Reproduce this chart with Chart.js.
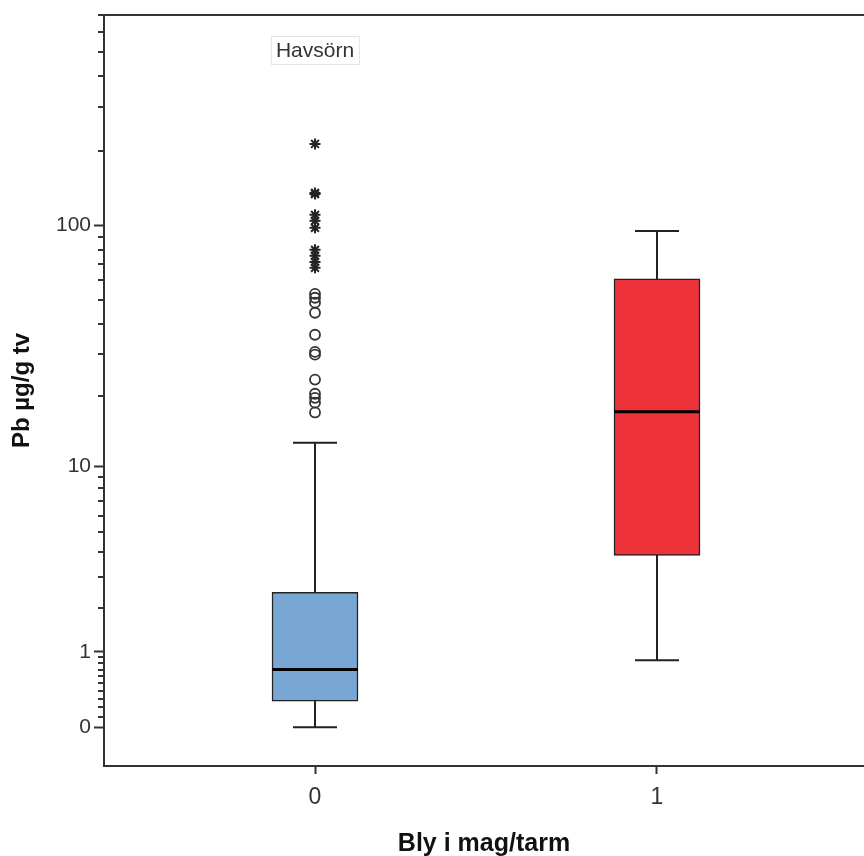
<!DOCTYPE html>
<html>
<head>
<meta charset="utf-8">
<script src="https://cdn.jsdelivr.net/npm/chart.js@4/dist/chart.umd.min.js"></script>
<style>
  html, body { margin: 0; padding: 0; background: #ffffff; }
  #wrap { width: 864px; height: 856px; position: relative; }
</style>
</head>
<body>
<div id="wrap"><canvas id="chart"></canvas></div>
<script>
// Lead concentration (Pb, µg/g dry weight) in white-tailed eagles,
// grouped by whether lead was found in the stomach/intestine.
const groups = ['0', '1'];
const whiskerLow = [0, 0.85];
const quartile1 = [0.27, 3.86];
const median = [0.70, 17.2];
const quartile3 = [2.46, 60.9];
const whiskerHigh = [12.7, 95.2];

// Outliers of group "0": circles (mild) and stars (extreme)
const mildOutliers0 = [52.9, 51.0, 48.7, 44.3, 36.0, 30.6, 29.8, 23.5, 20.5, 19.7, 18.8, 17.1];
const extremeOutliers0 = [213, 135.4, 134, 110.5, 104.5, 97.9, 79.8, 75.5, 71.3, 67.5];

// Y axis ticks (log10(v + 1) axis)
const yMajorTicks = [0, 1, 10, 100];
const yMajorLabels = ['0', '1', '10', '100'];
const yMinorTicks = [0.1, 0.2, 0.3, 0.4, 0.5, 0.6, 0.7, 0.8, 0.9,
                     2, 3, 4, 5, 6, 7, 8, 9,
                     20, 30, 40, 50, 60, 70, 80, 90,
                     200, 300, 400, 500, 600, 700];

const panelLabel = 'Havsörn';
const xTitle = 'Bly i mag/tarm';
const yTitle = 'Pb µg/g tv';

const boxColors = ['#79a7d4', '#ee323a'];

// Scale mapping values through log10(v + 1), so that zero can be shown.
const lg1p = v => Math.log10(v + 1);
class Log1pScale extends Chart.Scale {
  determineDataLimits() {
    const mm = this.getMinMax(false);
    this.min = Number.isFinite(this.options.min) ? this.options.min : mm.min;
    this.max = Number.isFinite(this.options.max) ? this.options.max : mm.max;
  }
  buildTicks() { return []; }
  getLabelForValue(v) { return String(v); }
  configure() {
    super.configure();
    this._lo = lg1p(this.min);
    this._span = lg1p(this.max) - this._lo;
  }
  getPixelForValue(v) { return this.getPixelForDecimal((lg1p(v) - this._lo) / this._span); }
  getValueForPixel(p) { return Math.pow(10, this._lo + this.getDecimalForPixel(p) * this._span) - 1; }
  getPixelForTick(i) { const t = this.ticks[i]; return t ? this.getPixelForValue(t.value) : null; }
}
Log1pScale.id = 'log1p';
Log1pScale.defaults = {};
Chart.register(Log1pScale);

const axisColor = '#333333';
const noPadding = () => ({ left: 0, top: 0, right: 0, bottom: 0 });

// Whiskers, caps, medians, minor ticks, frame and the panel label
const boxPlot = {
  id: 'boxPlot',
  beforeDatasetsDraw(chart) {
    const { ctx, scales: { x, y } } = chart;
    const capHalf = 22;
    ctx.save();
    ctx.strokeStyle = '#222222';
    ctx.lineWidth = 2;
    groups.forEach((g, i) => {
      const cx = x.getPixelForValue(i);
      const lo = y.getPixelForValue(whiskerLow[i]);
      const hi = y.getPixelForValue(whiskerHigh[i]);
      ctx.beginPath();
      ctx.moveTo(cx, lo); ctx.lineTo(cx, hi);
      ctx.moveTo(cx - capHalf, lo); ctx.lineTo(cx + capHalf, lo);
      ctx.moveTo(cx - capHalf, hi); ctx.lineTo(cx + capHalf, hi);
      ctx.stroke();
    });
    ctx.restore();
  },
  afterDatasetDraw(chart, args) {
    if (args.index !== 0) return;
    const { ctx, scales: { y } } = chart;
    const bars = chart.getDatasetMeta(0).data;
    ctx.save();
    ctx.strokeStyle = '#000000';
    ctx.lineWidth = 3;
    bars.forEach((el, i) => {
      const py = y.getPixelForValue(median[i]);
      ctx.beginPath();
      ctx.moveTo(el.x - el.width / 2, py);
      ctx.lineTo(el.x + el.width / 2, py);
      ctx.stroke();
    });
    ctx.restore();
  },
  afterDraw(chart) {
    const { ctx, chartArea: area, scales: { x, y } } = chart;
    ctx.save();
    // minor ticks on the value axis
    ctx.strokeStyle = axisColor;
    ctx.lineWidth = 2;
    ctx.beginPath();
    yMinorTicks.forEach(v => {
      const py = Math.round(y.getPixelForValue(v));
      ctx.moveTo(area.left - 6, py);
      ctx.lineTo(area.left, py);
    });
    ctx.stroke();
    // top frame line
    ctx.beginPath();
    ctx.moveTo(area.left - 6, area.top);
    ctx.lineTo(chart.width, area.top);
    ctx.stroke();
    // panel label
    ctx.font = '21px "Liberation Sans", Arial, sans-serif';
    const tw = ctx.measureText(panelLabel).width;
    const cx = x.getPixelForValue(0);
    const cy = 50;
    ctx.fillStyle = '#ffffff';
    ctx.strokeStyle = '#e4e4e4';
    ctx.lineWidth = 1;
    ctx.fillRect(cx - tw / 2 - 5, cy - 14, tw + 10, 28);
    ctx.strokeRect(cx - tw / 2 - 5 + 0.5, cy - 14 + 0.5, tw + 10, 28);
    ctx.fillStyle = '#333333';
    ctx.textAlign = 'center';
    ctx.textBaseline = 'middle';
    ctx.fillText(panelLabel, cx, cy + 1);
    ctx.restore();
  }
};

const xMin = -0.617, xMax = 1.6053;

new Chart(document.getElementById('chart'), {
  type: 'bar',
  data: {
    datasets: [
      {
        type: 'bar',
        data: groups.map((g, i) => ({ x: i, y: [quartile1[i], quartile3[i]] })),
        backgroundColor: boxColors,
        borderColor: '#222222',
        borderWidth: 1.5,
        borderSkipped: false,
        barThickness: 86,
        order: 2
      },
      {
        type: 'scatter',
        data: mildOutliers0.map(v => ({ x: 0, y: v })),
        pointStyle: 'circle',
        pointRadius: 5,
        borderWidth: 1.8,
        borderColor: '#333333',
        backgroundColor: 'rgba(255,255,255,0)',
        order: 1
      },
      {
        type: 'scatter',
        data: extremeOutliers0.map(v => ({ x: 0, y: v })),
        pointStyle: 'star',
        pointRadius: 5.5,
        borderWidth: 2,
        borderColor: '#222222',
        backgroundColor: '#222222',
        order: 1
      }
    ]
  },
  options: {
    responsive: true,
    maintainAspectRatio: false,
    animation: false,
    events: [],
    layout: { autoPadding: false, padding: { top: 15, right: 0, left: 0, bottom: 0 } },
    plugins: { legend: { display: false }, tooltip: { enabled: false } },
    scales: {
      x: {
        type: 'linear',
        position: 'bottom',
        offset: false,
        min: xMin,
        max: xMax,
        afterBuildTicks: s => { s.ticks = groups.map((g, i) => ({ value: i })); },
        afterFit: s => { s.height = 90; s.paddingLeft = 0; s.paddingRight = 0; s.getPadding = noPadding; },
        ticks: {
          callback: v => groups[v],
          color: '#333333',
          font: { family: '"Liberation Sans", Arial, sans-serif', size: 23 },
          padding: 10,
          maxRotation: 0,
          autoSkip: false
        },
        grid: {
          offset: false,
          drawOnChartArea: false,
          drawTicks: true,
          tickLength: 8,
          tickWidth: 2,
          tickColor: axisColor
        },
        border: { display: true, color: axisColor, width: 2 },
        title: {
          display: true,
          text: xTitle,
          color: '#111111',
          font: { family: '"Liberation Sans", Arial, sans-serif', size: 25, weight: 'bold', lineHeight: 0.9 },
          padding: { top: 0, bottom: 1 }
        }
      },
      y: {
        type: 'log1p',
        position: 'left',
        min: -0.3,
        max: 700,
        afterBuildTicks: s => { s.ticks = yMajorTicks.map(v => ({ value: v })); },
        afterFit: s => { s.width = 104; s.paddingTop = 0; s.paddingBottom = 0; s.getPadding = noPadding; },
        ticks: {
          callback: v => yMajorLabels[yMajorTicks.indexOf(v)],
          color: '#333333',
          font: { family: '"Liberation Sans", Arial, sans-serif', size: 21 },
          padding: 3,
          autoSkip: false
        },
        grid: {
          drawOnChartArea: false,
          drawTicks: true,
          tickLength: 10,
          tickWidth: 2,
          tickColor: axisColor
        },
        border: { display: true, color: axisColor, width: 2 },
        title: {
          display: true,
          text: yTitle,
          color: '#111111',
          font: { family: '"Liberation Sans", Arial, sans-serif', size: 24, weight: 'bold', lineHeight: 1.2 },
          padding: { top: 8, bottom: 0 }
        }
      }
    }
  },
  plugins: [boxPlot]
});
</script>
</body>
</html>
